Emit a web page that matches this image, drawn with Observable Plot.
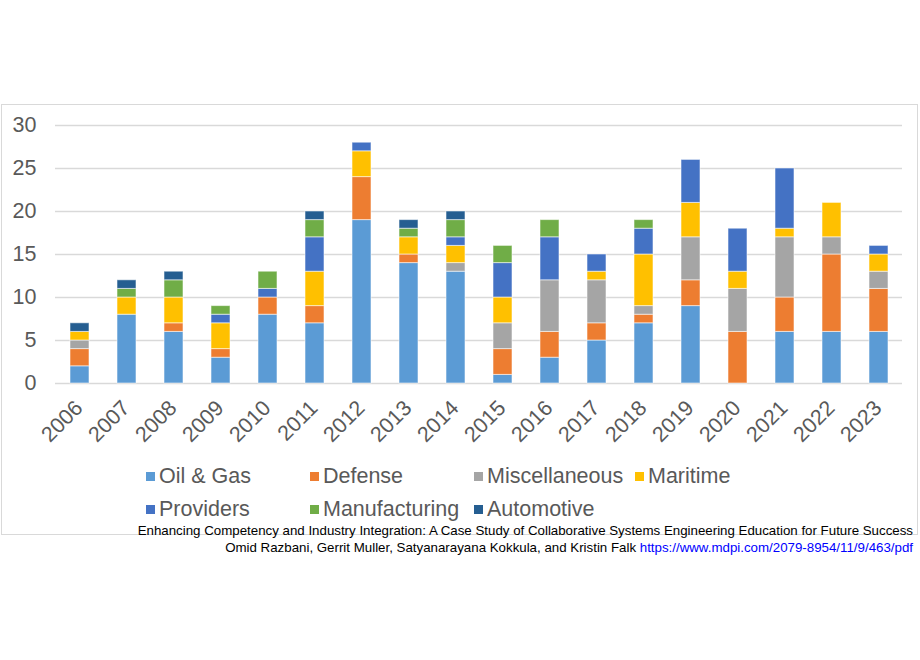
<!DOCTYPE html>
<html>
<head>
<meta charset="utf-8">
<script src="https://cdn.jsdelivr.net/npm/d3@7"></script>
<script src="https://cdn.jsdelivr.net/npm/@observablehq/plot@0.6"></script>
<style>
  html, body { margin: 0; padding: 0; background: #fff; }
  #wrap { position: relative; width: 920px; height: 660px; overflow: hidden; font-family: "Liberation Sans", Arial, sans-serif; }
  #frame { position: absolute; left: 1px; top: 104px; width: 915px; height: 429px; border: 1px solid #d9d9d9; }
  #chart { position: absolute; left: 0; top: 104px; }
  #legend { position: absolute; left: 146px; top: 462px; display: grid; grid-template-columns: 164px 164px 161px 200px; row-gap: 5px; }
  .item { display: flex; align-items: center; height: 28px; font-size: 21.5px; color: #595959; white-space: nowrap; }
  .sw { width: 9px; height: 9px; margin-right: 4px; flex: none; }
  #caption { position: absolute; right: 7px; top: 523px; text-align: right; font-size: 13.3px; line-height: 16.5px; color: #000; white-space: nowrap; }
  #caption a { color: #0000ff; text-decoration: none; }
</style>
</head>
<body>
<div id="wrap">
  <div id="frame"></div>
  <div id="chart"></div>
  <div id="legend"></div>
  <div id="caption">Enhancing Competency and Industry Integration: A Case Study of Collaborative Systems Engineering Education for Future Success<br>Omid Razbani, Gerrit Muller, Satyanarayana Kokkula, and Kristin Falk <a href="https://www.mdpi.com/2079-8954/11/9/463/pdf">https://www.mdpi.com/2079-8954/11/9/463/pdf</a></div>
</div>
<script>
const years = ["2006","2007","2008","2009","2010","2011","2012","2013","2014","2015","2016","2017","2018","2019","2020","2021","2022","2023"];
const seriesNames = ["Oil & Gas","Defense","Miscellaneous","Maritime","Providers","Manufacturing","Automotive"];
const oilGas        = [2, 8, 6, 3, 8, 7, 19, 14, 13, 1, 3, 5, 7, 9, 0, 6, 6, 6];
const defense       = [2, 0, 1, 1, 2, 2, 5, 1, 0, 3, 3, 2, 1, 3, 6, 4, 9, 5];
const miscellaneous = [1, 0, 0, 0, 0, 0, 0, 0, 1, 3, 6, 5, 1, 5, 5, 7, 2, 2];
const maritime      = [1, 2, 3, 3, 0, 4, 3, 2, 2, 3, 0, 1, 6, 4, 2, 1, 4, 2];
const providers     = [0, 0, 0, 1, 1, 4, 1, 0, 1, 4, 5, 2, 3, 5, 5, 7, 0, 1];
const manufacturing = [0, 1, 2, 1, 2, 2, 0, 1, 2, 2, 2, 0, 1, 0, 0, 0, 0, 0];
const automotive    = [1, 1, 1, 0, 0, 1, 0, 1, 1, 0, 0, 0, 0, 0, 0, 0, 0, 0];
const yTicks = [0, 5, 10, 15, 20, 25, 30];
const colors = ["#5B9BD5","#ED7D31","#A5A5A5","#FFC000","#4472C4","#70AD47","#255E91"];

const seriesValues = [oilGas, defense, miscellaneous, maritime, providers, manufacturing, automotive];
const rows = [];
seriesNames.forEach((name, i) => {
  years.forEach((yr, j) => {
    if (seriesValues[i][j] > 0) rows.push({year: yr, series: name, value: seriesValues[i][j]});
  });
});

const chart = Plot.plot({
  width: 918,
  height: 360,
  marginTop: 21,
  marginBottom: 81,
  marginLeft: 55,
  marginRight: 16,
  style: {fontFamily: '"Liberation Sans", Arial, sans-serif', color: "#595959", background: "transparent"},
  x: {domain: years, paddingInner: 0.6, paddingOuter: 0.3, align: 0.5},
  y: {domain: [0, 30]},
  color: {domain: seriesNames, range: colors},
  marks: [
    Plot.ruleY(yTicks, {stroke: "#d9d9d9", strokeWidth: 1.3}),
    Plot.barY(rows, {x: "year", y: "value", fill: "series", order: seriesNames, stroke: "#ffffff", strokeOpacity: 0.55, strokeWidth: 1}),
    Plot.axisY(yTicks, {tickSize: 0, tickPadding: 19, fontSize: 21.5, fill: "#595959", label: null}),
    Plot.axisX({tickSize: 0, tickPadding: 21, tickRotate: -45, fontSize: 21.5, fill: "#595959", label: null, dx: -1})
  ]
});
document.getElementById("chart").appendChild(chart);

const legend = document.getElementById("legend");
seriesNames.forEach((name, i) => {
  const item = document.createElement("div");
  item.className = "item";
  const sw = document.createElement("span");
  sw.className = "sw";
  sw.style.background = colors[i];
  const t = document.createElement("span");
  t.textContent = name;
  item.appendChild(sw);
  item.appendChild(t);
  legend.appendChild(item);
});
</script>
</body>
</html>
